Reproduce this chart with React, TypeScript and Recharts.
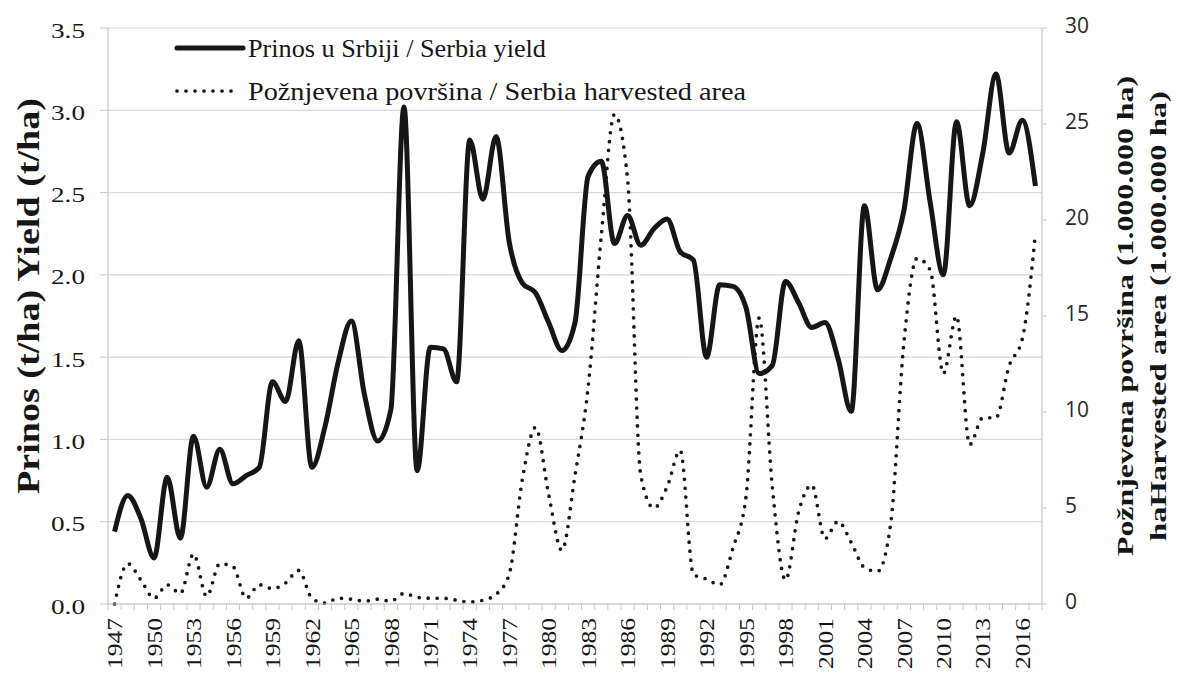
import React from 'react';
import { LineChart, Line, XAxis, YAxis, CartesianGrid, Label } from 'recharts';

const years = [
  '1947', '1948', '1949', '1950', '1951', '1952', '1953', '1954', '1955', '1956',
  '1957', '1958', '1959', '1960', '1961', '1962', '1963', '1964', '1965', '1966',
  '1967', '1968', '1969', '1970', '1971', '1972', '1973', '1974', '1975', '1976',
  '1977', '1978', '1979', '1980', '1981', '1982', '1983', '1984', '1985', '1986',
  '1987', '1988', '1989', '1990', '1991', '1992', '1993', '1994', '1995', '1996',
  '1997', '1998', '1999', '2000', '2001', '2002', '2003', '2004', '2005', '2006',
  '2007', '2008', '2009', '2010', '2011', '2012', '2013', '2014', '2015', '2016',
  '2017',
];

// Prinos u Srbiji / Serbia yield (t/ha)
const yieldValues = [
  0.44, 0.66, 0.52, 0.28, 0.77, 0.40, 1.02, 0.71, 0.94, 0.73,
  0.78, 0.83, 1.35, 1.23, 1.60, 0.83, 1.08, 1.47, 1.72, 1.27,
  0.99, 1.18, 3.02, 0.81, 1.56, 1.55, 1.35, 2.82, 2.46, 2.84,
  2.20, 1.95, 1.89, 1.71, 1.54, 1.71, 2.60, 2.69, 2.19, 2.36,
  2.18, 2.28, 2.34, 2.14, 2.09, 1.50, 1.94, 1.93, 1.80, 1.40,
  1.45, 1.96, 1.83, 1.68, 1.71, 1.49, 1.17, 2.42, 1.91, 2.10,
  2.39, 2.92, 2.44, 2.00, 2.93, 2.42, 2.74, 3.22, 2.74, 2.94,
  2.54,
];

// Požnjevena površina / Serbia harvested area (1.000.000 ha)
const areaValues = [
  0.0, 2.1, 1.25, 0.3, 1.0, 0.55, 2.6, 0.4, 2.1, 1.95,
  0.3, 1.0, 0.8, 1.1, 1.75, 0.3, 0.05, 0.3, 0.25, 0.15,
  0.25, 0.15, 0.55, 0.35, 0.3, 0.3, 0.2, 0.1, 0.2, 0.5,
  1.55, 6.5, 9.2, 5.7, 2.8, 6.7, 11.3, 19.2, 25.5, 22.1,
  6.7, 5.0, 6.1, 8.0, 1.55, 1.3, 1.0, 2.9, 5.6, 14.9,
  6.1, 1.25, 4.8, 6.2, 3.4, 4.3, 3.2, 1.9, 1.7, 4.2,
  13.6, 18.0, 17.4, 12.0, 15.0, 8.3, 9.7, 9.7, 12.4, 13.8,
  19.3,
];

const yieldTicks = [0, 0.5, 1.0, 1.5, 2.0, 2.5, 3.0, 3.5];
const areaTicks = [0, 5, 10, 15, 20, 25, 30];

const yieldTitle = 'Prinos (t/ha) Yield (t/ha)';
const areaTitle1 = 'Požnjevena površina (1.000.000 ha)';
const areaTitle2 = 'haHarvested area (1.000.000 ha)';
const legendYield = 'Prinos u Srbiji / Serbia yield';
const legendArea = 'Požnjevena površina / Serbia harvested area';

const data = years.map((year, i) => ({ year, yield: yieldValues[i], area: areaValues[i] }));

const SERIF = '"Liberation Serif", "Times New Roman", serif';
const SANS = '"Open Sans", "Liberation Sans", sans-serif';
const GRID = '#d6d9e3';
const AXIS = '#c3c7d3';
const INK = '#161616';

const W = 1181;
const H = 675;
const PLOT_LEFT = 108;
const PLOT_RIGHT = 1042;
const PLOT_TOP = 28;
const PLOT_BOTTOM = 604;
const BAND = (PLOT_RIGHT - PLOT_LEFT) / years.length;

function YearTick(props: any) {
  const { x, y, payload, index } = props;
  const bx = x - BAND / 2;
  const show = index % 3 === 0;
  return (
    <g>
      <line x1={bx} x2={bx} y1={PLOT_BOTTOM} y2={PLOT_BOTTOM + 6} stroke={AXIS} strokeWidth={1} />
      {index === years.length - 1 && (
        <line x1={x + BAND / 2} x2={x + BAND / 2} y1={PLOT_BOTTOM} y2={PLOT_BOTTOM + 6} stroke={AXIS} strokeWidth={1} />
      )}
      {show && (
        <text
          x={x}
          y={y}
          transform={`rotate(-90 ${x} ${y})`}
          textAnchor="end"
          dy="0.35em"
          fontFamily={SERIF}
          fontSize={22}
          textLength={51}
          lengthAdjust="spacingAndGlyphs"
          fill={INK}
        >
          {payload.value}
        </text>
      )}
    </g>
  );
}

function LeftTick(props: any) {
  const { x, y, payload } = props;
  return (
    <text
      x={x}
      y={y + 2}
      textAnchor="end"
      dominantBaseline="central"
      fontFamily={SERIF}
      fontSize={22}
      textLength={34}
      lengthAdjust="spacingAndGlyphs"
      fill={INK}
    >
      {Number(payload.value).toFixed(1)}
    </text>
  );
}

function RightTick(props: any) {
  const { x, y, payload } = props;
  return (
    <text
      x={x}
      y={y - 3}
      textAnchor="start"
      dominantBaseline="central"
      fontFamily={SANS}
      fontSize={21}
      fill="#2a2a2a"
    >
      {payload.value}
    </text>
  );
}

export default function App() {
  return (
    <div style={{ position: 'absolute', left: 0, top: 0, width: W, height: H, background: '#ffffff' }}>
      <LineChart
        width={W}
        height={H}
        data={data}
        margin={{ top: PLOT_TOP, right: 0, bottom: 0, left: 0 }}
      >
        <CartesianGrid yAxisId="left" vertical={false} stroke={GRID} strokeWidth={1.2} />
        <XAxis
          dataKey="year"
          height={H - PLOT_BOTTOM}
          interval={0}
          padding={{ left: BAND / 2, right: BAND / 2 }}
          tickLine={false}
          tickSize={0}
          tickMargin={14}
          tick={<YearTick />}
          axisLine={{ stroke: AXIS, strokeWidth: 1.2 }}
        />
        <YAxis
          yAxisId="left"
          width={PLOT_LEFT}
          domain={[0, 3.5]}
          ticks={yieldTicks}
          interval={0}
          tickSize={8}
          tickMargin={15}
          tickLine={{ stroke: AXIS }}
          axisLine={{ stroke: AXIS, strokeWidth: 1.2 }}
          tick={<LeftTick />}
        >
          <Label
            content={() => (
              <text
                x={28}
                y={296}
                transform="rotate(-90 28 296)"
                textAnchor="middle"
                dominantBaseline="central"
                fontFamily={SERIF}
                fontWeight="bold"
                fontSize={31}
                textLength={396}
                lengthAdjust="spacingAndGlyphs"
                fill={INK}
              >
                {yieldTitle}
              </text>
            )}
          />
        </YAxis>
        <YAxis
          yAxisId="right"
          orientation="right"
          width={W - PLOT_RIGHT}
          domain={[0, 30]}
          ticks={areaTicks}
          interval={0}
          tickSize={5}
          tickMargin={18}
          tickLine={{ stroke: AXIS }}
          axisLine={{ stroke: AXIS, strokeWidth: 1.2 }}
          tick={<RightTick />}
        >
          <Label
            content={() => (
              <g>
                <text
                  x={1125}
                  y={316}
                  transform="rotate(-90 1125 316)"
                  textAnchor="middle"
                  dominantBaseline="central"
                  fontFamily={SERIF}
                  fontWeight="bold"
                  fontSize={24}
                  textLength={480}
                  lengthAdjust="spacingAndGlyphs"
                  fill={INK}
                >
                  {areaTitle1}
                </text>
                <text
                  x={1158}
                  y={316}
                  transform="rotate(-90 1158 316)"
                  textAnchor="middle"
                  dominantBaseline="central"
                  fontFamily={SERIF}
                  fontWeight="bold"
                  fontSize={24}
                  textLength={450}
                  lengthAdjust="spacingAndGlyphs"
                  fill={INK}
                >
                  {areaTitle2}
                </text>
              </g>
            )}
          />
        </YAxis>
        <Line
          yAxisId="right"
          type="monotone"
          dataKey="area"
          stroke={INK}
          strokeWidth={3.7}
          strokeDasharray="0 9"
          strokeLinecap="round"
          dot={false}
          activeDot={false}
          isAnimationActive={false}
        />
        <Line
          yAxisId="left"
          type="monotone"
          dataKey="yield"
          stroke={INK}
          strokeWidth={5}
          dot={false}
          activeDot={false}
          isAnimationActive={false}
        />
      </LineChart>
      <svg
        width={W}
        height={H}
        style={{ position: 'absolute', left: 0, top: 0, pointerEvents: 'none' }}
      >
        <line x1={177} x2={243} y1={48} y2={48} stroke={INK} strokeWidth={5} strokeLinecap="round" />
        <text
          x={248}
          y={48}
          dominantBaseline="central"
          fontFamily={SERIF}
          fontSize={25}
          textLength={298}
          lengthAdjust="spacingAndGlyphs"
          fill={INK}
        >
          {legendYield}
        </text>
        <line x1={177} x2={240} y1={91} y2={91} stroke={INK} strokeWidth={3.7} strokeDasharray="0 9" strokeLinecap="round" />
        <text
          x={248}
          y={91}
          dominantBaseline="central"
          fontFamily={SERIF}
          fontSize={25}
          textLength={498}
          lengthAdjust="spacingAndGlyphs"
          fill={INK}
        >
          {legendArea}
        </text>
      </svg>
    </div>
  );
}
